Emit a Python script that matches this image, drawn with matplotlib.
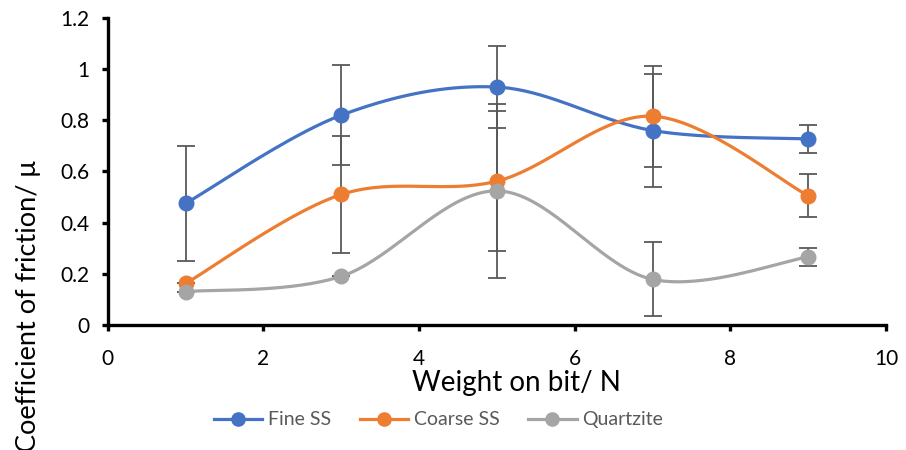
import numpy as np
import matplotlib.pyplot as plt

# Weight on bit (N) and friction coefficient for each rock type
weight = [1, 3, 5, 7, 9]
fine_ss = [0.475, 0.82, 0.93, 0.76, 0.727]
coarse_ss = [0.162, 0.51, 0.562, 0.816, 0.505]
quartzite = [0.13, 0.19, 0.524, 0.178, 0.266]

fine_err = [0.225, 0.195, 0.16, 0.22, 0.053]
coarse_err = [0.0, 0.227, 0.275, 0.197, 0.084]
quartz_err = [0.0, 0.0, 0.34, 0.145, 0.035]

series_names = ["Fine SS", "Coarse SS", "Quartzite"]
colors = ["#4472C4", "#ED7D31", "#A5A5A5"]


def smooth(x, y, n=40):
    # Catmull-Rom curve through the points, drawn as cubic Bezier pieces
    p = np.column_stack([x, y]).astype(float)
    p = np.vstack([p[0], p, p[-1]])
    t = np.linspace(0, 1, n)[:, None]
    out = []
    for i in range(1, len(p) - 2):
        p0, p1 = p[i], p[i + 1]
        c1 = p0 + (p[i + 1] - p[i - 1]) / 6
        c2 = p1 - (p[i + 2] - p[i]) / 6
        seg = ((1 - t) ** 3) * p0 + 3 * ((1 - t) ** 2) * t * c1 \
            + 3 * (1 - t) * t ** 2 * c2 + t ** 3 * p1
        out.append(seg if i == 1 else seg[1:])
    out = np.vstack(out)
    return out[:, 0], out[:, 1]


plt.rcParams['font.family'] = ['Lato', 'DejaVu Sans']

fig = plt.figure(figsize=(9.06, 4.5), dpi=100)
ax = fig.add_axes([0.119, 0.278, 0.859, 0.682])

data = [fine_ss, coarse_ss, quartzite]
errs = [fine_err, coarse_err, quartz_err]

for vals, err in zip(data, errs):
    ax.errorbar(weight, vals, yerr=err, fmt='none', ecolor='#595959',
                elinewidth=1.3, capsize=6.5, capthick=1.3, zorder=1)

for i, (vals, name, c) in enumerate(zip(data, series_names, colors)):
    xs, ys = smooth(weight, vals)
    ax.plot(xs, ys, color=c, lw=2.3, zorder=2 + i, solid_capstyle='round')
    ax.plot(weight, vals, 'o', color=c, ms=10.5, zorder=2 + i)
    ax.plot([], [], '-o', color=c, lw=2.3, ms=9.5, label=name)

ax.set_xlim(0, 10)
ax.set_ylim(0, 1.2)
ax.set_xticks(np.arange(0, 11, 2))
ax.set_yticks(np.arange(0, 1.21, 0.2))
ax.set_yticklabels(["0", "0.2", "0.4", "0.6", "0.8", "1", "1.2"])

for s in ["top", "right"]:
    ax.spines[s].set_visible(False)
for s in ["left", "bottom"]:
    ax.spines[s].set_linewidth(2.4)
ax.tick_params(direction='out', length=4, width=2.4, labelsize=15,
               colors='black')
ax.tick_params(axis='y', pad=9)
ax.tick_params(axis='x', pad=13)

fig.text(0.57, 0.148, "Weight on bit/ N", ha='center', va='center', fontsize=20)
fig.text(0.031, 0.32, "Coefficient of friction/ \u03bc", ha='center', va='center',
         rotation=90, fontsize=19.5)

leg = fig.legend(loc='center', bbox_to_anchor=(0.484, 0.067), ncol=3,
                 frameon=False, fontsize=14, handlelength=2.5, columnspacing=1.45,
                 handletextpad=0.3)
for t in leg.get_texts():
    t.set_color('#595959')

fig.savefig("out.png", dpi=100)
